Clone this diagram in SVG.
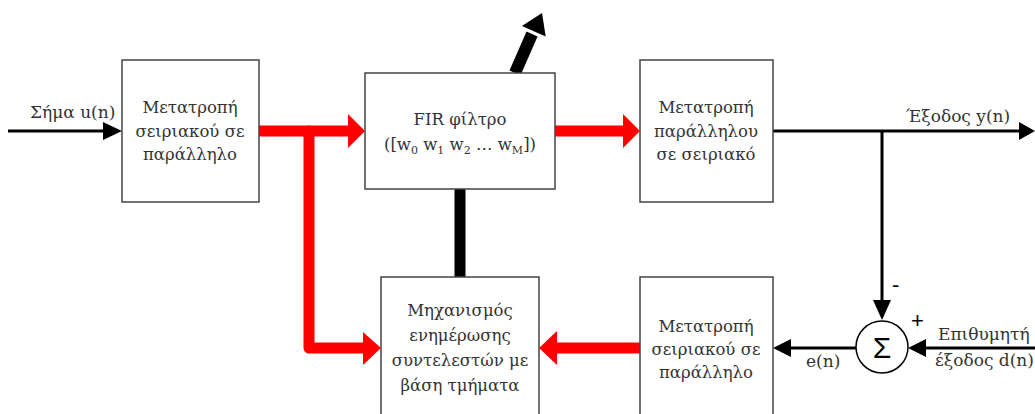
<svg xmlns="http://www.w3.org/2000/svg" width="1035" height="414" viewBox="0 0 1035 414">
<style>
.box{fill:#fff;stroke:#444;stroke-width:1.5}
.t{font-family:"DejaVu Serif","Liberation Serif",serif;font-size:16.5px;fill:#333;text-anchor:middle}
.lbl{font-family:"DejaVu Serif","Liberation Serif",serif;font-size:17px;fill:#333}
.red{fill:none;stroke:#ff0000;stroke-width:11;stroke-linecap:round;stroke-linejoin:round}
.blk{fill:none;stroke:#000;stroke-width:3}
.thk{fill:none;stroke:#000;stroke-width:11}
.rh{fill:#ff0000}
.bh{fill:#000}
</style>
<rect width="1035" height="414" fill="#fff"/>
<g id="connectors">
  <line class="blk" x1="8" y1="131" x2="106" y2="131"/>
  <polygon class="bh" points="103,122 122,131 103,140"/>
  <line class="red" x1="259" y1="131" x2="350" y2="131"/>
  <polygon class="rh" points="348,114 365,131 348,148"/>
  <polyline class="red" points="309,131 309,348 365,348"/>
  <polygon class="rh" points="363,332 381,348 363,365"/>
  <line class="red" x1="555" y1="131" x2="625" y2="131"/>
  <polygon class="rh" points="623,114 640,131 623,148"/>
  <line class="red" x1="640" y1="348" x2="555" y2="348"/>
  <polygon class="rh" points="557,331 539,348 557,365"/>
  <line class="thk" x1="460" y1="189" x2="460" y2="277"/>
  <line x1="515" y1="73" x2="532" y2="34" stroke="#000" stroke-width="12"/>
  <polygon class="bh" points="542,13 545.7,36.5 521.9,25.9"/>
  <line class="blk" x1="773" y1="131" x2="1022" y2="131"/>
  <polygon class="bh" points="1019,122 1035,131 1019,140"/>
  <line class="blk" x1="882" y1="131" x2="882" y2="303"/>
  <polygon class="bh" points="873,300 882,320 891,300"/>
  <line class="blk" x1="1035" y1="348" x2="923" y2="348"/>
  <polygon class="bh" points="926,339 908,348 926,357"/>
  <line class="blk" x1="856" y1="348" x2="788" y2="348"/>
  <polygon class="bh" points="791,339 773,348 791,357"/>
</g>
<g id="box1">
  <rect class="box" x="122" y="60" width="137" height="142"/>
  <text class="t" x="190" y="113">Μετατροπή</text>
  <text class="t" x="190" y="137">σειριακού σε</text>
  <text class="t" x="190" y="160">παράλληλο</text>
</g>
<g id="fir">
  <rect class="box" x="365" y="73" width="190" height="116"/>
  <text class="t" x="460" y="125">FIR φίλτρο</text>
  <text class="t" x="460" y="150">([w<tspan font-size="11" dy="4">0</tspan><tspan dy="-4"> w</tspan><tspan font-size="11" dy="4">1</tspan><tspan dy="-4"> w</tspan><tspan font-size="11" dy="4">2</tspan><tspan dy="-4"> … w</tspan><tspan font-size="11" dy="4">M</tspan><tspan dy="-4">])</tspan></text>
</g>
<g id="box3">
  <rect class="box" x="640" y="60" width="133" height="142"/>
  <text class="t" x="706" y="113">Μετατροπή</text>
  <text class="t" x="706" y="137">παράλληλου</text>
  <text class="t" x="706" y="160">σε σειριακό</text>
</g>
<g id="mechanism">
  <rect class="box" x="381" y="277" width="158" height="150"/>
  <text class="t" x="460" y="316">Μηχανισμός</text>
  <text class="t" x="460" y="341">ενημέρωσης</text>
  <text class="t" x="460" y="366">συντελεστών με</text>
  <text class="t" x="460" y="391">βάση τμήματα</text>
</g>
<g id="box5">
  <rect class="box" x="640" y="277" width="133" height="150"/>
  <text class="t" x="706" y="332">Μετατροπή</text>
  <text class="t" x="706" y="355">σειριακού σε</text>
  <text class="t" x="706" y="378">παράλληλο</text>
</g>
<g id="sigma">
  <circle cx="882" cy="347" r="26" fill="#fff" stroke="#000" stroke-width="1.5"/>
  <text x="882" y="358" font-family="'Liberation Sans',Arial,sans-serif" font-size="30" text-anchor="middle" fill="#000">Σ</text>
</g>
<g id="labels">
  <text class="lbl" x="30" y="118">Σήμα u(n)</text>
  <text class="lbl" x="906" y="122">Έξοδος y(n)</text>
  <text x="892" y="292" font-family="'Liberation Sans',Arial,sans-serif" font-size="22" fill="#000">-</text>
  <text x="911" y="328" font-family="'Liberation Sans',Arial,sans-serif" font-size="22" fill="#000">+</text>
  <text class="lbl" x="938" y="340">Επιθυμητή</text>
  <text class="lbl" x="935" y="366">έξοδος d(n)</text>
  <text class="lbl" x="806" y="367">e(n)</text>
</g>
</svg>
